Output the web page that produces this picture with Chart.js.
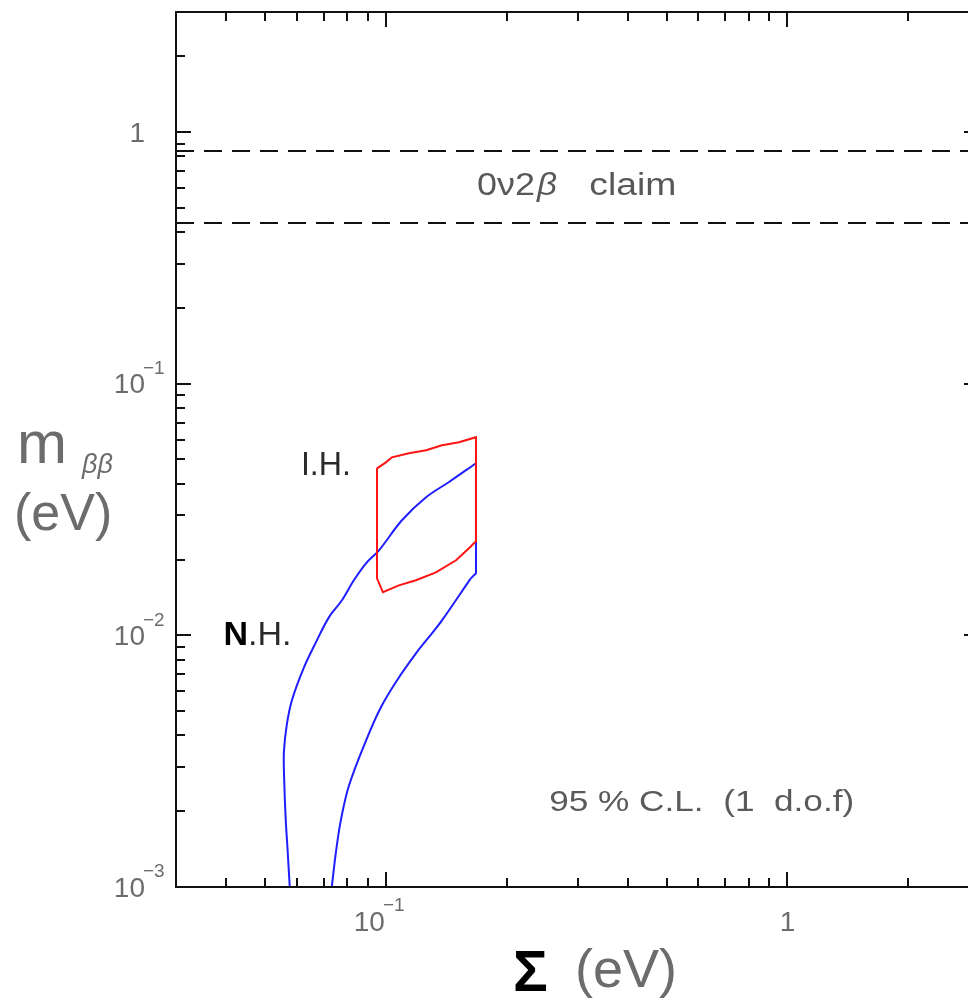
<!DOCTYPE html>
<html>
<head>
<meta charset="utf-8">
<script src="https://cdn.jsdelivr.net/npm/chart.js@4.4.1/dist/chart.umd.min.js"></script>
<style>
  html, body { margin: 0; padding: 0; background: #fff; overflow: hidden; }
  #wrap { position: relative; width: 1000px; height: 1005px; }
</style>
</head>
<body>
<div id="wrap"><canvas id="c" width="1000" height="1005"></canvas></div>
<script>
// Sum of neutrino masses (eV) vs effective Majorana mass m_bb (eV), 95% C.L.

// Normal hierarchy contour: upper branch (going up), right edge, lower branch (going down)
const nhUpperSum = [0.0576, 0.0569, 0.0563, 0.0558, 0.0557, 0.0566, 0.0583, 0.0625, 0.0673, 0.0721,
                    0.0777, 0.0832, 0.0892, 0.0961, 0.1096, 0.1259, 0.1436, 0.1676];
const nhUpperMbb = [0.0010, 0.0014, 0.00184, 0.00265, 0.00343, 0.00439, 0.00551, 0.00746, 0.00955, 0.01179,
                    0.01378, 0.01655, 0.01933, 0.02178, 0.02866, 0.03538, 0.0407, 0.0483];
const nhEdgeSum = [0.1676, 0.1676, 0.1625];
const nhEdgeMbb = [0.0483, 0.01764, 0.0168];
const nhLowerSum = [0.1625, 0.1379, 0.1302, 0.1188, 0.1065, 0.0971, 0.0892, 0.0809, 0.0772, 0.0750, 0.0733];
const nhLowerMbb = [0.0168, 0.01147, 0.01019, 0.00848, 0.00662, 0.00517, 0.00382, 0.00253, 0.00184, 0.00136, 0.0010];

// Inverted hierarchy contour (closed)
const ihSum = [0.0950, 0.1000, 0.1035, 0.1141, 0.1259, 0.1379, 0.1521, 0.1676,
               0.1676, 0.1610, 0.1495, 0.1332, 0.1188, 0.1077, 0.0983, 0.0950, 0.0950];
const ihMbb = [0.0461, 0.0487, 0.0510, 0.0529, 0.0544, 0.0569, 0.0585, 0.0613,
               0.02365, 0.0222, 0.01987, 0.0178, 0.01655, 0.0158, 0.01483, 0.01685, 0.0461];

// 0v2b claim band limits (eV)
const claimLevels = [0.84, 0.435];

// Axis ranges and labelled decades
const xRange = [0.03, 3];
const yRange = [0.001, 3];
const xLabelTicks = [0.1, 1];
const xLabelExp = [-1, 0];
const yLabelTicks = [0.001, 0.01, 0.1, 1];
const yLabelExp = [-3, -2, -1, 0];

const toPoints = (xs, ys) => xs.map((x, i) => ({ x: x, y: ys[i] }));

const BLUE = '#1e1eff';
const RED = '#ff1414';

const datasets = [
  { label: 'I.H.', data: toPoints(ihSum, ihMbb), borderColor: RED, tension: 0, order: 0 },
  { label: 'N.H. upper', data: toPoints(nhUpperSum, nhUpperMbb), borderColor: BLUE, tension: 0.35, order: 1 },
  { label: 'N.H. edge', data: toPoints(nhEdgeSum, nhEdgeMbb), borderColor: BLUE, tension: 0, order: 1 },
  { label: 'N.H. lower', data: toPoints(nhLowerSum, nhLowerMbb), borderColor: BLUE, tension: 0.35, order: 1 }
].concat(claimLevels.map((v, i) => ({
  label: 'claim ' + i,
  data: [{ x: xRange[0], y: v }, { x: xRange[1], y: v }],
  borderColor: '#111',
  borderDash: [18, 10],
  tension: 0,
  order: 2 + i
})));
datasets.forEach(d => { d.showLine = true; d.pointRadius = 0; d.fill = false; d.borderWidth = 2; });

// Tick values at 1..9 x each decade (1 = major)
function logTicks(lo, hi) {
  const out = [];
  for (let e = Math.floor(Math.log10(lo)); e <= Math.ceil(Math.log10(hi)); e++) {
    for (let k = 1; k <= 9; k++) {
      const v = k * Math.pow(10, e);
      if (v >= lo * 0.999 && v <= hi * 1.001) out.push({ v: v, major: k === 1 });
    }
  }
  return out;
}

const SANS = '"Liberation Sans", Arial, sans-serif';
const GRAY = '#6c6c6c';

function powerLabel(ctx, exp, x, y, anchor) {
  // anchor 'y': "10" ends at x; anchor 'x': label centred near x
  ctx.save();
  ctx.fillStyle = GRAY;
  ctx.textBaseline = 'middle';
  ctx.font = '28px ' + SANS;
  if (exp === 0) {
    ctx.textAlign = anchor === 'y' ? 'right' : 'center';
    ctx.fillText('1', x, y);
  } else {
    const baseW = ctx.measureText('10').width;
    const bx = anchor === 'y' ? x - baseW : x - baseW - 4;
    ctx.textAlign = 'left';
    ctx.fillText('10', bx, y);
    ctx.font = '19px ' + SANS;
    ctx.fillText('\u2212' + Math.abs(exp), bx + baseW - 2, y - 17);
  }
  ctx.restore();
}

// Draw text stretched horizontally to a given width
function fitText(ctx, text, x, y, width) {
  const w = ctx.measureText(text).width;
  ctx.save();
  ctx.translate(x, y);
  ctx.scale(width / w, 1);
  ctx.fillText(text, 0, 0);
  ctx.restore();
}

const framePlugin = {
  id: 'frame',
  afterDatasetsDraw(chart) {
    const { ctx, chartArea: a, scales } = chart;
    const xs = scales.x, ys = scales.y;
    ctx.save();
    ctx.strokeStyle = '#111';
    ctx.lineWidth = 2;
    ctx.strokeRect(a.left, a.top, a.right - a.left, a.bottom - a.top);
    ctx.beginPath();
    logTicks(xRange[0], xRange[1]).forEach(t => {
      const px = Math.round(xs.getPixelForValue(t.v));
      const len = t.major ? 15 : 9;
      ctx.moveTo(px, a.bottom); ctx.lineTo(px, a.bottom - len);
      ctx.moveTo(px, a.top); ctx.lineTo(px, a.top + len);
    });
    logTicks(yRange[0], yRange[1]).forEach(t => {
      const py = Math.round(ys.getPixelForValue(t.v));
      const len = t.major ? 15 : 9;
      ctx.moveTo(a.left, py); ctx.lineTo(a.left + len, py);
      ctx.moveTo(a.right, py); ctx.lineTo(a.right - len, py);
    });
    ctx.stroke();
    ctx.restore();
  },
  afterDraw(chart) {
    const { ctx, chartArea: a, scales } = chart;
    const xs = scales.x, ys = scales.y;

    // tick labels
    yLabelTicks.forEach((v, i) => {
      const py = ys.getPixelForValue(v);
      powerLabel(ctx, yLabelExp[i], a.left - 31, py + 2, 'y');
    });
    xLabelTicks.forEach((v, i) => {
      const px = xs.getPixelForValue(v);
      powerLabel(ctx, xLabelExp[i], px + (xLabelExp[i] === 0 ? 0 : 3), a.bottom + 36, 'x');
    });

    ctx.save();
    ctx.textBaseline = 'alphabetic';
    ctx.textAlign = 'left';

    // y axis title: m_bb (eV)
    ctx.fillStyle = GRAY;
    ctx.font = '60px ' + SANS;
    ctx.fillText('m', a.left - 159, a.bottom - 424);
    ctx.font = 'italic 27px ' + SANS;
    ctx.fillText('\u03B2\u03B2', a.left - 94, a.bottom - 414);
    ctx.font = '52px ' + SANS;
    ctx.fillText('(eV)', a.left - 162, a.bottom - 357);

    // x axis title: Sigma (eV)
    ctx.fillStyle = '#000';
    ctx.font = 'bold 58px ' + SANS;
    ctx.fillText('\u03A3', a.left + 337, a.bottom + 104);
    ctx.fillStyle = GRAY;
    ctx.font = '54px ' + SANS;
    ctx.fillText('(eV)', a.left + 399, a.bottom + 100);

    // claim band label
    ctx.fillStyle = '#585858';
    ctx.textBaseline = 'middle';
    const cy = ys.getPixelForValue(Math.sqrt(claimLevels[0] * claimLevels[1])) - 1;
    const cx = xs.getPixelForValue(0.1686);
    ctx.font = '31px ' + SANS;
    fitText(ctx, '0\u03BD2', cx, cy, 58);
    ctx.font = 'italic 31px ' + SANS;
    fitText(ctx, '\u03B2', cx + 60, cy, 20);
    ctx.font = '31px ' + SANS;
    fitText(ctx, 'claim', xs.getPixelForValue(0.321), cy, 87);

    // hierarchy labels
    ctx.textBaseline = 'alphabetic';
    ctx.fillStyle = '#2a2a2a';
    ctx.font = '34px ' + SANS;
    fitText(ctx, 'I.H.', xs.getPixelForValue(0.0614), ys.getPixelForValue(0.0434), 50);
    const nx = xs.getPixelForValue(0.0394), ny = ys.getPixelForValue(0.00918);
    ctx.fillStyle = '#000';
    ctx.font = 'bold 34px ' + SANS;
    ctx.fillText('N', nx, ny);
    const wN = ctx.measureText('N').width;
    ctx.fillStyle = '#2a2a2a';
    ctx.font = '34px ' + SANS;
    ctx.fillText('.H.', nx + wN, ny);

    // confidence level note
    ctx.fillStyle = '#5a5a5a';
    ctx.font = '30px ' + SANS;
    ctx.textBaseline = 'middle';
    fitText(ctx, '95 % C.L.  (1  d.o.f)', xs.getPixelForValue(0.255), ys.getPixelForValue(0.00217), 305);
    ctx.restore();
  }
};

new Chart(document.getElementById('c'), {
  type: 'scatter',
  data: { datasets: datasets },
  options: {
    responsive: false,
    animation: false,
    devicePixelRatio: 1,
    layout: { padding: { top: 12, right: 21, left: 0, bottom: 0 } },
    plugins: { legend: { display: false }, tooltip: { enabled: false } },
    scales: {
      x: {
        type: 'logarithmic', min: xRange[0], max: xRange[1], position: 'bottom',
        ticks: { display: false }, grid: { display: false, drawTicks: false }, border: { display: false },
        afterFit: s => { s.height = 118; }
      },
      y: {
        type: 'logarithmic', min: yRange[0], max: yRange[1], position: 'left',
        ticks: { display: false }, grid: { display: false, drawTicks: false }, border: { display: false },
        afterFit: s => { s.width = 176; }
      }
    }
  },
  plugins: [framePlugin]
});
</script>
</body>
</html>
